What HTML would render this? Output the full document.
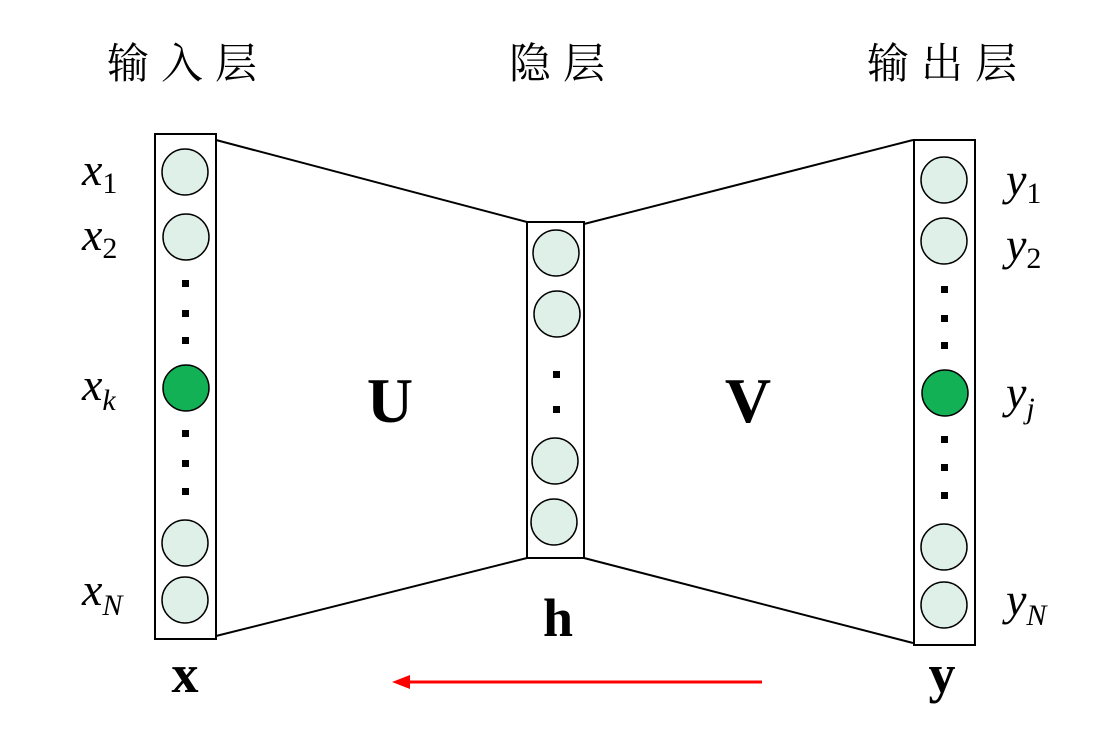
<!DOCTYPE html>
<html><head><style>body{margin:0;background:#fff}</style></head><body>
<svg width="1104" height="740" xmlns="http://www.w3.org/2000/svg">
<g font-family="'Liberation Serif','Noto Serif CJK SC',serif" font-size="42" fill="#000" text-anchor="middle" letter-spacing="12">
<text x="188" y="78">输入层</text>
<text x="563" y="78">隐层</text>
<text x="948" y="78">输出层</text>
</g>
<g stroke="#000" stroke-width="2" fill="none">
<line x1="216" y1="140" x2="527" y2="222"/>
<line x1="216" y1="636" x2="527" y2="558"/>
<line x1="584" y1="224" x2="913" y2="140"/>
<line x1="584" y1="558" x2="913" y2="643"/>
<rect x="155" y="134" width="61" height="505" fill="#fff"/>
<rect x="527" y="222" width="57" height="336" fill="#fff"/>
<rect x="914" y="140" width="61" height="505" fill="#fff"/>
</g>
<g stroke="#000" stroke-width="1.5" fill="#dff0e8">
<circle cx="185" cy="172" r="23"/><circle cx="186" cy="237" r="23"/>
<circle cx="186" cy="388" r="23" fill="#13b156"/>
<circle cx="185" cy="543" r="23"/><circle cx="185" cy="600" r="23"/>
<circle cx="556" cy="253" r="23"/><circle cx="557" cy="314" r="23"/>
<circle cx="555" cy="461" r="23"/><circle cx="554" cy="522" r="23"/>
<circle cx="944" cy="180" r="23"/><circle cx="944" cy="241" r="23"/>
<circle cx="945" cy="393" r="23" fill="#13b156"/>
<circle cx="944" cy="547" r="23"/><circle cx="944" cy="605" r="23"/>
</g>
<g fill="#000">
<rect x="182" y="280" width="7" height="7"/><rect x="182" y="310" width="7" height="7"/><rect x="182" y="337" width="7" height="7"/>
<rect x="182" y="430" width="7" height="7"/><rect x="182" y="460" width="7" height="7"/><rect x="182" y="488" width="7" height="7"/>
<rect x="553" y="371" width="7" height="7"/><rect x="553" y="406" width="7" height="7"/>
<rect x="941" y="286" width="7" height="7"/><rect x="941" y="315" width="7" height="7"/><rect x="941" y="342" width="7" height="7"/>
<rect x="941" y="436" width="7" height="7"/><rect x="941" y="464" width="7" height="7"/><rect x="941" y="492" width="7" height="7"/>
</g>
<g font-family="'Liberation Serif',serif" font-weight="bold" text-anchor="middle">
<text x="390" y="422" font-size="64">U</text>
<text x="748" y="422" font-size="64">V</text>
<text x="558" y="636" font-size="54">h</text>
<text x="185" y="692" font-size="54">x</text>
<text x="942" y="692" font-size="54">y</text>
</g>
<g font-family="'Liberation Serif',serif" font-style="italic" font-size="46">
<text x="82" y="185">x<tspan font-size="30" font-style="normal" dy="8">1</tspan></text>
<text x="82" y="250">x<tspan font-size="30" font-style="normal" dy="8">2</tspan></text>
<text x="82" y="400">x<tspan font-size="30" dy="10">k</tspan></text>
<text x="82" y="605">x<tspan font-size="30" dy="10">N</tspan></text>
<text x="1006" y="195">y<tspan font-size="30" font-style="normal" dy="8">1</tspan></text>
<text x="1006" y="260">y<tspan font-size="30" font-style="normal" dy="8">2</tspan></text>
<text x="1006" y="408">y<tspan font-size="30" dy="10">j</tspan></text>
<text x="1006" y="615">y<tspan font-size="30" dy="10">N</tspan></text>
</g>
<line x1="762" y1="682" x2="405" y2="682" stroke="#f00" stroke-width="3"/>
<polygon points="392,682 410,675 410,689" fill="#f00"/>
</svg>
</body></html>
